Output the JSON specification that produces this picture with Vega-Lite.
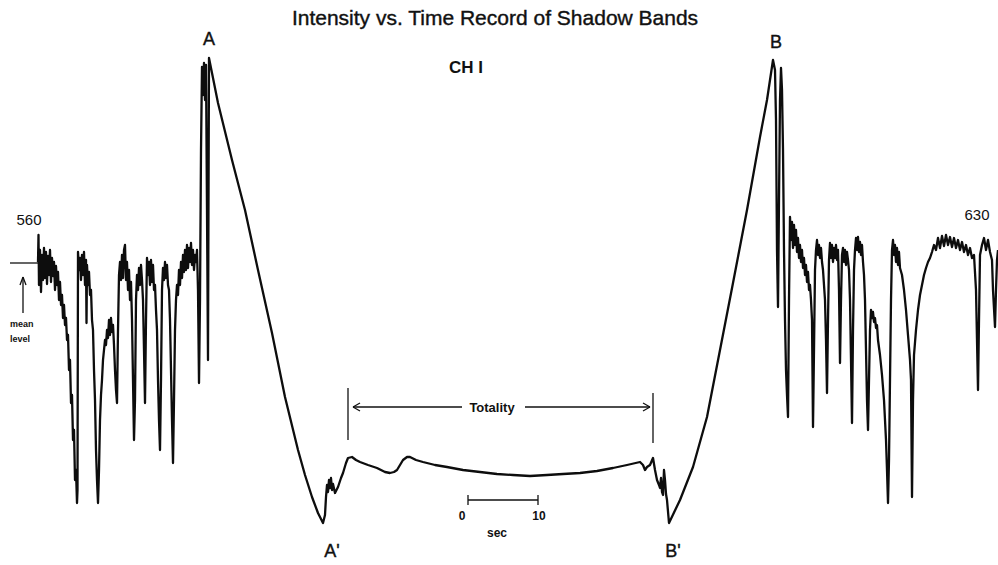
{
  "$schema": "https://vega.github.io/schema/vega-lite/v6.json",
  "width": 998,
  "height": 565,
  "padding": 0,
  "autosize": {"type": "none"},
  "background": "white",
  "config": {"view": {"stroke": null}, "text": {"font": "Liberation Sans", "color": "#111"}},
  "datasets": {
    "trace": [
      {"t":38,"v":303},{"t":38.5,"v":330},{"t":39,"v":280},{"t":40,"v":315},{"t":41,"v":273},{"t":42,"v":310},{"t":43,"v":285},{"t":44,"v":317},{"t":45,"v":287},{"t":46,"v":313},{"t":47,"v":281},{"t":48,"v":309},{"t":49,"v":290},{"t":50,"v":315},{"t":51,"v":283},{"t":52,"v":307},{"t":53,"v":289},{"t":54,"v":303},{"t":55,"v":275},{"t":56,"v":299},{"t":57,"v":280},{"t":58,"v":293},{"t":59,"v":265},{"t":60,"v":283},{"t":61,"v":260},{"t":62,"v":270},{"t":63,"v":247},{"t":64,"v":260},{"t":65,"v":240},{"t":66,"v":247},{"t":67,"v":225},{"t":68,"v":230},{"t":69,"v":195},{"t":70,"v":205},{"t":71,"v":162},{"t":72,"v":170},{"t":73,"v":125},{"t":74,"v":135},{"t":75,"v":85},{"t":76,"v":95},{"t":77,"v":62},{"t":77.5,"v":75},{"t":78,"v":313},{"t":79,"v":295},{"t":80,"v":307},{"t":81,"v":285},{"t":82,"v":310},{"t":83,"v":290},{"t":84,"v":313},{"t":85,"v":280},{"t":86,"v":305},{"t":86.5,"v":242},{"t":87,"v":300},{"t":88,"v":280},{"t":89,"v":293},{"t":90,"v":270},{"t":91,"v":275},{"t":92,"v":245},{"t":93,"v":235},{"t":94,"v":195},{"t":95,"v":165},{"t":96,"v":115},{"t":97,"v":85},{"t":98,"v":62},{"t":99,"v":95},{"t":100,"v":145},{"t":101,"v":170},{"t":102,"v":185},{"t":103,"v":205},{"t":104,"v":215},{"t":105,"v":225},{"t":106,"v":220},{"t":107,"v":235},{"t":108,"v":227},{"t":109,"v":245},{"t":110,"v":230},{"t":111,"v":247},{"t":112,"v":233},{"t":113,"v":240},{"t":114,"v":220},{"t":115,"v":195},{"t":116,"v":175},{"t":117,"v":162},{"t":118,"v":235},{"t":119,"v":290},{"t":120,"v":303},{"t":121,"v":285},{"t":122,"v":310},{"t":123,"v":287},{"t":124,"v":315},{"t":125,"v":320},{"t":126,"v":285},{"t":127,"v":303},{"t":128,"v":275},{"t":129,"v":295},{"t":130,"v":265},{"t":131,"v":283},{"t":132,"v":245},{"t":133,"v":185},{"t":134,"v":125},{"t":135,"v":165},{"t":136,"v":265},{"t":137,"v":290},{"t":138,"v":275},{"t":139,"v":297},{"t":140,"v":280},{"t":141,"v":300},{"t":142,"v":285},{"t":143,"v":265},{"t":144,"v":215},{"t":145,"v":162},{"t":146,"v":245},{"t":147,"v":307},{"t":148,"v":290},{"t":149,"v":303},{"t":150,"v":280},{"t":151,"v":305},{"t":152,"v":283},{"t":153,"v":300},{"t":154,"v":275},{"t":155,"v":280},{"t":156,"v":255},{"t":157,"v":235},{"t":158,"v":185},{"t":159,"v":145},{"t":160,"v":115},{"t":161,"v":185},{"t":162,"v":275},{"t":163,"v":297},{"t":164,"v":285},{"t":165,"v":303},{"t":166,"v":287},{"t":167,"v":300},{"t":168,"v":280},{"t":169,"v":275},{"t":170,"v":245},{"t":171,"v":195},{"t":172,"v":145},{"t":173,"v":102},{"t":174,"v":165},{"t":175,"v":235},{"t":176,"v":265},{"t":177,"v":280},{"t":178,"v":270},{"t":179,"v":295},{"t":180,"v":280},{"t":181,"v":303},{"t":182,"v":287},{"t":183,"v":310},{"t":184,"v":293},{"t":185,"v":315},{"t":186,"v":295},{"t":187,"v":320},{"t":188,"v":297},{"t":189,"v":317},{"t":190,"v":303},{"t":191,"v":322},{"t":192,"v":300},{"t":193,"v":315},{"t":194,"v":295},{"t":195,"v":310},{"t":196,"v":303},{"t":197,"v":315},{"t":198,"v":275},{"t":199,"v":182},{"t":200,"v":265},{"t":201,"v":415},{"t":202,"v":498},{"t":203,"v":470},{"t":204,"v":502},{"t":205,"v":465},{"t":206,"v":500},{"t":207,"v":355},{"t":208,"v":205},{"t":208.5,"v":365},{"t":209,"v":507},
      {"t":218,"v":462},{"t":232,"v":405},{"t":245,"v":355},{"t":258,"v":295},{"t":272,"v":232},{"t":285,"v":168},{"t":298,"v":115},{"t":305,"v":90},{"t":312,"v":68},{"t":318,"v":52},{"t":323,"v":42},{"t":325,"v":50},{"t":326,"v":68},{"t":327,"v":80},{"t":328,"v":73},{"t":329,"v":85},{"t":330,"v":77},{"t":331,"v":87},{"t":332,"v":75},{"t":333,"v":81},{"t":335,"v":72},{"t":338,"v":78},{"t":341,"v":87},{"t":343,"v":92},{"t":346,"v":102},{"t":348,"v":107},{"t":352,"v":108},{"t":356,"v":105},{"t":360,"v":103},{"t":368,"v":100},{"t":377,"v":97},{"t":385,"v":93},{"t":390,"v":92},{"t":394,"v":93},{"t":397,"v":95},{"t":400,"v":100},{"t":403,"v":105},{"t":407,"v":108},{"t":410,"v":108},{"t":416,"v":105},{"t":423,"v":103},{"t":435,"v":100},{"t":447,"v":98},{"t":463,"v":95},{"t":480,"v":93},{"t":497,"v":91},{"t":513,"v":90},{"t":530,"v":89},{"t":547,"v":90},{"t":563,"v":91},{"t":580,"v":92},{"t":597,"v":94},{"t":613,"v":97},{"t":627,"v":100},{"t":640,"v":103},{"t":643,"v":100},{"t":645,"v":95},{"t":647,"v":98},{"t":650,"v":100},{"t":653,"v":107},{"t":655,"v":95},{"t":657,"v":85},{"t":659,"v":80},{"t":660,"v":77},{"t":661,"v":87},{"t":662,"v":73},{"t":663,"v":70},{"t":664,"v":95},{"t":665,"v":85},{"t":666,"v":71},{"t":667,"v":65},{"t":669,"v":42},{"t":680,"v":65},{"t":693,"v":98},{"t":707,"v":148},{"t":720,"v":215},{"t":733,"v":282},{"t":747,"v":355},{"t":760,"v":428},{"t":767,"v":465},{"t":773,"v":505},
      {"t":775,"v":495},{"t":776,"v":445},{"t":777,"v":315},{"t":778,"v":258},{"t":779,"v":365},{"t":780,"v":465},{"t":781,"v":497},{"t":782,"v":475},{"t":783,"v":415},{"t":784,"v":315},{"t":785,"v":245},{"t":786,"v":195},{"t":787,"v":170},{"t":788,"v":148},{"t":789,"v":265},{"t":790,"v":348},{"t":791,"v":325},{"t":792,"v":343},{"t":793,"v":317},{"t":794,"v":340},{"t":795,"v":320},{"t":796,"v":335},{"t":797,"v":313},{"t":798,"v":327},{"t":799,"v":307},{"t":800,"v":320},{"t":801,"v":303},{"t":802,"v":315},{"t":803,"v":297},{"t":804,"v":307},{"t":805,"v":290},{"t":806,"v":300},{"t":807,"v":283},{"t":808,"v":293},{"t":809,"v":275},{"t":810,"v":280},{"t":811,"v":265},{"t":812,"v":245},{"t":813,"v":138},{"t":814,"v":215},{"t":815,"v":295},{"t":816,"v":315},{"t":817,"v":325},{"t":818,"v":310},{"t":819,"v":320},{"t":820,"v":307},{"t":821,"v":317},{"t":822,"v":303},{"t":823,"v":295},{"t":825,"v":265},{"t":826,"v":225},{"t":827,"v":172},{"t":828,"v":245},{"t":829,"v":305},{"t":830,"v":322},{"t":831,"v":307},{"t":832,"v":320},{"t":833,"v":303},{"t":834,"v":317},{"t":835,"v":307},{"t":836,"v":320},{"t":837,"v":305},{"t":838,"v":315},{"t":839,"v":275},{"t":840,"v":202},{"t":841,"v":265},{"t":842,"v":310},{"t":843,"v":317},{"t":844,"v":303},{"t":845,"v":315},{"t":846,"v":300},{"t":847,"v":313},{"t":848,"v":305},{"t":849,"v":295},{"t":850,"v":265},{"t":851,"v":205},{"t":852,"v":142},{"t":853,"v":235},{"t":854,"v":295},{"t":855,"v":315},{"t":856,"v":327},{"t":857,"v":315},{"t":858,"v":328},{"t":859,"v":313},{"t":860,"v":323},{"t":861,"v":310},{"t":862,"v":320},{"t":863,"v":303},{"t":864,"v":290},{"t":865,"v":265},{"t":866,"v":215},{"t":867,"v":165},{"t":868,"v":135},{"t":869,"v":185},{"t":870,"v":235},{"t":871,"v":255},{"t":872,"v":247},{"t":873,"v":253},{"t":874,"v":243},{"t":875,"v":247},{"t":876,"v":237},{"t":877,"v":240},{"t":878,"v":225},{"t":880,"v":210},{"t":882,"v":190},{"t":884,"v":165},{"t":886,"v":125},{"t":887,"v":95},{"t":888,"v":62},{"t":889,"v":105},{"t":890,"v":185},{"t":891,"v":265},{"t":892,"v":315},{"t":893,"v":325},{"t":894,"v":310},{"t":895,"v":320},{"t":896,"v":303},{"t":897,"v":317},{"t":898,"v":300},{"t":899,"v":313},{"t":900,"v":297},{"t":902,"v":290},{"t":904,"v":275},{"t":906,"v":255},{"t":908,"v":230},{"t":910,"v":205},{"t":911,"v":185},{"t":912,"v":68},{"t":913,"v":165},{"t":914,"v":210},{"t":916,"v":235},{"t":918,"v":255},{"t":920,"v":270},{"t":922,"v":280},{"t":924,"v":290},{"t":926,"v":297},{"t":928,"v":303},{"t":930,"v":307},{"t":932,"v":313},{"t":934,"v":320},{"t":936,"v":315},{"t":938,"v":327},{"t":940,"v":317},{"t":942,"v":329},{"t":944,"v":319},{"t":946,"v":330},{"t":948,"v":320},{"t":950,"v":328},{"t":952,"v":318},{"t":954,"v":327},{"t":956,"v":317},{"t":958,"v":325},{"t":960,"v":315},{"t":962,"v":323},{"t":964,"v":313},{"t":966,"v":320},{"t":968,"v":310},{"t":970,"v":317},{"t":972,"v":307},{"t":974,"v":310},{"t":976,"v":275},{"t":977,"v":225},{"t":978,"v":175},{"t":979,"v":245},{"t":980,"v":310},{"t":982,"v":320},{"t":984,"v":327},{"t":986,"v":315},{"t":988,"v":325},{"t":990,"v":313},{"t":992,"v":305},{"t":993,"v":275},{"t":995,"v":238},{"t":996,"v":275},{"t":997,"v":305},{"t":998,"v":315}
    ],
    "rules": [
      {"t":10,"t2":38,"v":302,"v2":302},
      {"t":23,"t2":23,"v":252,"v2":288},
      {"t":23,"t2":20,"v":288,"v2":280},
      {"t":23,"t2":26,"v":288,"v2":280},
      {"t":348,"t2":348,"v":177,"v2":125},
      {"t":653,"t2":653,"v":172,"v2":122},
      {"t":353,"t2":462,"v":158,"v2":158},
      {"t":525,"t2":650,"v":158,"v2":158},
      {"t":353,"t2":360,"v":158,"v2":162},
      {"t":353,"t2":360,"v":158,"v2":154},
      {"t":650,"t2":643,"v":158,"v2":162},
      {"t":650,"t2":643,"v":158,"v2":154},
      {"t":468,"t2":538,"v":65,"v2":65},
      {"t":468,"t2":468,"v":60,"v2":70},
      {"t":538,"t2":538,"v":60,"v2":70}
    ]
  },
  "encoding": {
    "x": {"field": "t", "type": "quantitative", "scale": {"domain": [0, 998], "nice": false, "zero": false}, "axis": null},
    "y": {"field": "v", "type": "quantitative", "scale": {"domain": [0, 565], "nice": false, "zero": false}, "axis": null}
  },
  "layer": [
    {
      "data": {"name": "trace"},
      "mark": {"type": "line", "color": "#0d0d0d", "strokeWidth": 2.3, "strokeJoin": "round", "interpolate": "linear"},
      "encoding": {}
    },
    {
      "data": {"name": "rules"},
      "mark": {"type": "rule", "color": "#111", "strokeWidth": 1.3},
      "encoding": {
        "x2": {"field": "t2"},
        "y2": {"field": "v2"}
      }
    },
    {
      "data": {"values": [{"label": "Intensity vs. Time Record of Shadow  Bands", "t": 495, "v": 540}]},
      "mark": {"type": "text", "fontSize": 21, "baseline": "alphabetic", "align": "center", "stroke": "#111", "strokeWidth": 0.4},
      "encoding": {"text": {"field": "label"}}
    },
    {
      "data": {"values": [{"label": "CH I", "t": 466, "v": 492}]},
      "mark": {"type": "text", "fontSize": 17, "fontWeight": "bold", "baseline": "alphabetic", "align": "center"},
      "encoding": {"text": {"field": "label"}}
    },
    {
      "data": {"values": [
        {"label": "A", "t": 209, "v": 520},
        {"label": "B", "t": 776, "v": 517},
        {"label": "A'", "t": 332, "v": 8},
        {"label": "B'", "t": 673, "v": 8}
      ]},
      "mark": {"type": "text", "fontSize": 18, "baseline": "alphabetic", "align": "center", "stroke": "#111", "strokeWidth": 0.4},
      "encoding": {"text": {"field": "label"}}
    },
    {
      "data": {"values": [
        {"label": "560", "t": 29, "v": 340},
        {"label": "630", "t": 977, "v": 345}
      ]},
      "mark": {"type": "text", "fontSize": 15, "baseline": "alphabetic", "align": "center"},
      "encoding": {"text": {"field": "label"}}
    },
    {
      "data": {"values": [{"label": "Totality", "t": 492, "v": 153}]},
      "mark": {"type": "text", "fontSize": 13, "fontWeight": "bold", "baseline": "alphabetic", "align": "center"},
      "encoding": {"text": {"field": "label"}}
    },
    {
      "data": {"values": [
        {"label": "0", "t": 462, "v": 45},
        {"label": "10", "t": 539, "v": 45},
        {"label": "sec", "t": 497, "v": 28}
      ]},
      "mark": {"type": "text", "fontSize": 12, "fontWeight": "bold", "baseline": "alphabetic", "align": "center"},
      "encoding": {"text": {"field": "label"}}
    },
    {
      "data": {"values": [
        {"label": "mean", "t": 10, "v": 238},
        {"label": "level", "t": 10, "v": 223}
      ]},
      "mark": {"type": "text", "fontSize": 9, "fontWeight": "bold", "baseline": "alphabetic", "align": "left"},
      "encoding": {"text": {"field": "label"}}
    }
  ]
}
